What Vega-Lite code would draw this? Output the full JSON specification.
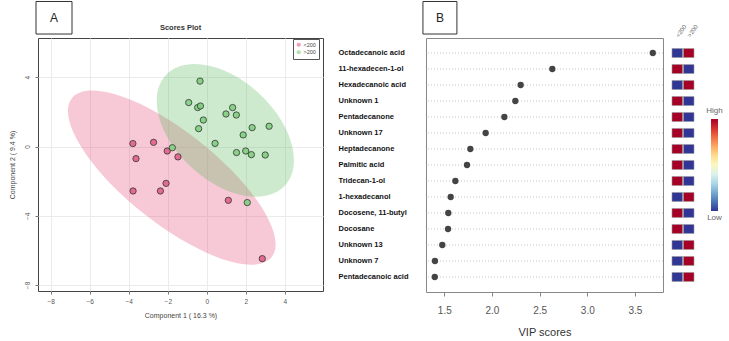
{
  "$schema": "https://vega.github.io/schema/vega-lite/v6.json",
  "background": "white",
  "padding": {"left": 7, "top": 0, "right": 2, "bottom": 2},
  "config": {"font": "Liberation Sans", "view": {"stroke": null}, "axis": {"labelOverlap": false, "labelSeparation": -1000}},
  "datasets": {
    "scores": [
      {"group": "<200", "x": -3.79, "y": 0.17},
      {"group": "<200", "x": -2.73, "y": 0.24},
      {"group": "<200", "x": -3.63, "y": -0.70},
      {"group": "<200", "x": -2.03, "y": -0.26},
      {"group": "<200", "x": -1.48, "y": -0.60},
      {"group": "<200", "x": -2.09, "y": -2.13},
      {"group": "<200", "x": -2.38, "y": -2.57},
      {"group": "<200", "x": -3.78, "y": -2.57},
      {"group": "<200", "x": 1.10, "y": -3.11},
      {"group": "<200", "x": 2.84, "y": -6.48},
      {"group": ">200", "x": -0.35, "y": 3.78},
      {"group": ">200", "x": -0.93, "y": 2.54},
      {"group": ">200", "x": -0.47, "y": 2.25},
      {"group": ">200", "x": -0.33, "y": 2.34},
      {"group": ">200", "x": -0.18, "y": 1.53},
      {"group": ">200", "x": -0.42, "y": 1.03},
      {"group": ">200", "x": -1.77, "y": -0.07},
      {"group": ">200", "x": 0.42, "y": 0.18},
      {"group": ">200", "x": 1.32, "y": 2.25},
      {"group": ">200", "x": 0.98, "y": 1.88},
      {"group": ">200", "x": 1.51, "y": 1.82},
      {"group": ">200", "x": 2.32, "y": 1.09},
      {"group": ">200", "x": 3.19, "y": 1.17},
      {"group": ">200", "x": 1.86, "y": 0.67},
      {"group": ">200", "x": 1.52, "y": -0.35},
      {"group": ">200", "x": 1.99, "y": -0.26},
      {"group": ">200", "x": 2.28, "y": -0.47},
      {"group": ">200", "x": 2.99, "y": -0.49},
      {"group": ">200", "x": 2.07, "y": -3.24}
    ],
    "panels": [{"panel": "A"}, {"panel": "B"}, {"panel": "Scores Plot"}],
    "vip": [
      {"compound": "Octadecanoic acid", "vip": 3.687, "<200": 0, ">200": 1},
      {"compound": "11-hexadecen-1-ol", "vip": 2.633, "<200": 1, ">200": 0},
      {"compound": "Hexadecanoic acid", "vip": 2.301, "<200": 0, ">200": 1},
      {"compound": "Unknown 1", "vip": 2.245, "<200": 1, ">200": 0},
      {"compound": "Pentadecanone", "vip": 2.13, "<200": 1, ">200": 0},
      {"compound": "Unknown 17", "vip": 1.934, "<200": 1, ">200": 0},
      {"compound": "Heptadecanone", "vip": 1.773, "<200": 1, ">200": 0},
      {"compound": "Palmitic acid", "vip": 1.738, "<200": 1, ">200": 0},
      {"compound": "Tridecan-1-ol", "vip": 1.616, "<200": 1, ">200": 0},
      {"compound": "1-hexadecanol", "vip": 1.567, "<200": 0, ">200": 1},
      {"compound": "Docosene, 11-butyl", "vip": 1.542, "<200": 1, ">200": 0},
      {"compound": "Docosane", "vip": 1.539, "<200": 1, ">200": 0},
      {"compound": "Unknown 13", "vip": 1.479, "<200": 0, ">200": 1},
      {"compound": "Unknown 7", "vip": 1.402, "<200": 0, ">200": 1},
      {"compound": "Pentadecanoic acid", "vip": 1.40, "<200": 0, ">200": 1}
    ]
  },
  "bounds": "flush",
  "spacing": 103,
  "hconcat": [
    {
      "width": 285,
      "height": 253,
      "view": {"stroke": "#444", "strokeWidth": 1},
      "layer": [
        {
          "data": {"name": "scores"},
          "transform": [
            {"filter": "datum.group === '<200'"},
            {"aggregate": [{"op": "mean", "field": "x", "as": "x"}, {"op": "mean", "field": "y", "as": "y"}], "groupby": ["group"]}
          ],
          "mark": {"type": "point", "filled": true, "shape": "M 1 0 C 1 0.197 0.552 0.357 0 0.357 C -0.552 0.357 -1 0.197 -1 0 C -1 -0.197 -0.552 -0.357 0 -0.357 C 0.552 -0.357 1 -0.197 1 0 Z",
                   "size": 65127, "angle": 38.5, "fill": "#e8577f", "fillOpacity": 0.33, "opacity": 1, "strokeWidth": 0},
          "encoding": {
            "x": {
              "field": "x", "type": "quantitative",
              "scale": {"domain": [-8.65, 5.95], "nice": false, "zero": false},
              "axis": {"values": [-8, -6, -4, -2, 0, 2, 4], "grid": true, "gridColor": "#ebebeb", "domain": false, "labelOverlap": false, "labelSeparation": -1000,
                       "tickColor": "#777", "tickSize": 3, "labelFontSize": 6.5, "labelColor": "#555", "labelPadding": 4,
                       "title": "Component 1 ( 16.3 %)", "titleFontSize": 7, "titleFontWeight": "normal", "titleColor": "#444", "titlePadding": 7}
            },
            "y": {
              "field": "y", "type": "quantitative",
              "scale": {"domain": [-8.35, 6.27], "nice": false, "zero": false},
              "axis": {"values": [-8, -6, -4, -2, 0, 2, 4, 6], "grid": true, "gridColor": "#ebebeb", "domain": false, "labelOverlap": false, "labelSeparation": -1000,
                       "tickColor": "#777", "tickSize": 3, "labelFontSize": 6.5, "labelColor": "#555", "labelPadding": 5, "labelAngle": -90,
                       "title": "Component 2 ( 9.4 %)", "titleFontSize": 7, "titleFontWeight": "normal", "titleColor": "#444", "titlePadding": 9}
            }
          }
        },
        {
          "data": {"name": "scores"},
          "transform": [
            {"filter": "datum.group === '>200'"},
            {"aggregate": [{"op": "mean", "field": "x", "as": "x"}, {"op": "mean", "field": "y", "as": "y"}], "groupby": ["group"]}
          ],
          "mark": {"type": "point", "filled": true, "shape": "M 1 0 C 1 0.341 0.552 0.617 0 0.617 C -0.552 0.617 -1 0.341 -1 0 C -1 -0.341 -0.552 -0.617 0 -0.617 C 0.552 -0.617 1 -0.341 1 0 Z",
                   "size": 26374, "angle": 42.8, "fill": "#5cb85c", "fillOpacity": 0.3, "opacity": 1, "strokeWidth": 0},
          "encoding": {"x": {"field": "x", "type": "quantitative"}, "y": {"field": "y", "type": "quantitative"}}
        },
        {
          "data": {"name": "scores"},
          "mark": {"type": "circle", "size": 40, "stroke": "#333", "strokeWidth": 0.8, "opacity": 1, "fillOpacity": 0.9},
          "encoding": {
            "x": {"field": "x", "type": "quantitative"},
            "y": {"field": "y", "type": "quantitative"},
            "fill": {
              "field": "group", "type": "nominal",
              "scale": {"domain": ["<200", ">200"], "range": ["#e0608a", "#7fcf7f"]},
              "legend": {"title": null, "orient": "none", "legendX": 255, "legendY": 1, "padding": 3, "strokeColor": "#555", "fillColor": "white",
                         "labelFontSize": 5.5, "labelColor": "#444", "symbolSize": 18, "symbolStrokeWidth": 0, "symbolOpacity": 0.6,
                         "rowPadding": 0.5, "labelOffset": 2}
            }
          }
        },
        {
          "data": {"name": "panels"},
          "transform": [{"filter": "datum.panel === 'Scores Plot'"}],
          "mark": {"type": "text", "fontSize": 7.5, "fontWeight": "bold", "color": "#333", "align": "center", "baseline": "middle", "clip": false},
          "encoding": {"x": {"datum": -1.35}, "y": {"datum": 6.85}, "text": {"field": "panel"}}
        },
        {
          "data": {"name": "panels"},
          "transform": [{"filter": "datum.panel === 'A'"}],
          "mark": {"type": "rect", "fill": "white", "stroke": "#333", "strokeWidth": 1, "clip": false},
          "encoding": {"x": {"datum": -8.752}, "x2": {"datum": -6.908}, "y": {"datum": 8.38}, "y2": {"datum": 6.5}}
        },
        {
          "data": {"name": "panels"},
          "transform": [{"filter": "datum.panel === 'A'"}],
          "mark": {"type": "text", "fontSize": 12, "color": "#222", "align": "center", "baseline": "middle", "clip": false},
          "encoding": {"x": {"datum": -7.83}, "y": {"datum": 7.44}, "text": {"field": "panel"}}
        },
        {
          "data": {"name": "panels"},
          "transform": [{"filter": "datum.panel === 'B'"}],
          "mark": {"type": "rect", "fill": "white", "stroke": "#333", "strokeWidth": 1, "clip": false},
          "encoding": {"x": {"datum": 11.07}, "x2": {"datum": 12.81}, "y": {"datum": 8.38}, "y2": {"datum": 6.5}}
        },
        {
          "data": {"name": "panels"},
          "transform": [{"filter": "datum.panel === 'B'"}],
          "mark": {"type": "text", "fontSize": 12, "color": "#222", "align": "center", "baseline": "middle", "clip": false},
          "encoding": {"x": {"datum": 11.94}, "y": {"datum": 7.44}, "text": {"field": "panel"}}
        }
      ]
    },
    {
      "width": 237,
      "height": 254,
      "view": {"stroke": "#888", "strokeWidth": 1},
      "data": {"name": "vip"},
      "encoding": {
        "y": {
          "field": "compound", "type": "nominal", "sort": null, "title": null,
          "scale": {"paddingInner": 0.44, "paddingOuter": 0.66},
          "axis": {"labelAlign": "left", "labelPadding": 88, "ticks": false, "tickSize": 0, "domain": false, "grid": false,
                   "labelFontSize": 7.5, "labelFontWeight": "bold", "labelColor": "#111", "labelLimit": 0}
        }
      },
      "layer": [
        {
          "mark": {"type": "rule", "strokeDash": [1, 2], "color": "#c8c8c8", "strokeWidth": 1},
          "encoding": {}
        },
        {
          "mark": {"type": "circle", "size": 40, "color": "#444", "opacity": 1},
          "encoding": {
            "x": {
              "field": "vip", "type": "quantitative",
              "scale": {"domain": [1.308, 3.794], "nice": false, "zero": false},
              "axis": {"values": [1.5, 2, 2.5, 3, 3.5], "format": ".1f", "grid": false, "domain": false,
                       "tickColor": "#888", "tickSize": 4, "labelFontSize": 10, "labelColor": "#555", "labelPadding": 9,
                       "title": "VIP scores", "titleFontSize": 11, "titleFontWeight": "normal", "titleColor": "#333", "titlePadding": 11}
            }
          }
        },
        {
          "transform": [{"fold": ["<200", ">200"], "as": ["group", "level"]}],
          "mark": {"type": "rect", "stroke": "#999", "strokeWidth": 0.6, "clip": false},
          "encoding": {
            "x": {
              "field": "group", "type": "nominal", "sort": null, "title": null,
              "scale": {"range": [246, 268], "paddingInner": 0.08, "paddingOuter": 0},
              "axis": {"orient": "top", "labelAngle": -55, "ticks": false, "domain": false, "labelFontSize": 6, "labelColor": "#666", "labelPadding": 2}
            },
            "color": {
              "field": "level", "type": "quantitative",
              "scale": {"scheme": "redyellowblue", "reverse": true, "domain": [0, 1]},
              "legend": {"orient": "none", "legendX": 673, "legendY": 81, "direction": "vertical", "gradientLength": 92, "gradientThickness": 7,
                         "title": null, "values": [0, 1], "labelExpr": "datum.value > 0.5 ? 'High' : 'Low'", "labelFontSize": 8, "labelColor": "#666",
                         "labelFlush": false, "labelOverlap": false, "padding": 0, "gradientStrokeWidth": 0,
                         "encode": {"labels": {"update": {"x": {"value": 3.5}, "align": {"value": "center"},
                                                           "baseline": {"signal": "datum.value > 0.5 ? 'bottom' : 'top'"},
                                                           "dy": {"signal": "datum.value > 0.5 ? -4 : 3"}}}}}
            }
          }
        }
      ],
      "resolve": {"scale": {"x": "independent"}, "axis": {"x": "independent"}}
    }
  ]
}
